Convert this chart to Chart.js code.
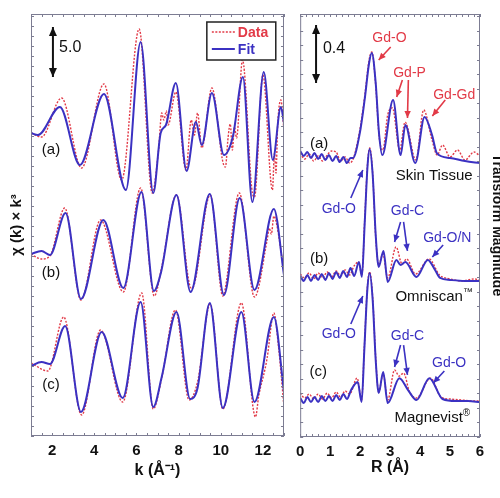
<!DOCTYPE html>
<html>
<head>
<meta charset="utf-8">
<script src="https://cdn.jsdelivr.net/npm/chart.js@4.4.1/dist/chart.umd.min.js"></script>
<style>
  html, body { margin: 0; background: #fff; }
  #fig { position: relative; width: 500px; height: 498px; overflow: hidden; }
  .pane { position: absolute; top: 0; height: 498px; }
</style>
</head>
<body>
<div id="fig">
  <div class="pane" style="left:0;width:290px"><canvas id="kspace"></canvas></div>
  <div class="pane" style="left:290px;width:210px"><canvas id="rspace"></canvas></div>
</div>
<script>
const FONT = "'Liberation Sans', Arial, Helvetica, sans-serif"
const RED = '#e23a47'
const BLUE = '#3b31c2'
const FRAME = '#7c7c92'
const INK = '#111'

// ---- k-space: chi(k) * k^3, curves shifted by K_OFFSETS ----
const K_TICKS = [2, 4, 6, 8, 10, 12]
const K_OFFSETS = [30.3, 18.2, 7.2]

const kFitA  = [1.0, 1.33, 2.37, 3.32, 4.46, 5.5, 6.2, 6.8, 7.15, 7.4, 7.87, 8.38, 8.82, 9.1, 9.58, 10.15, 10.57, 11.05, 11.5, 12.04, 12.47, 12.85, 13.0]
const chiFitA = [0, -0.2, 2.6, -3.2, 3.9, -5.7, 9.1, -6.0, 0.0, 0.8, 5.0, -3.8, 1.1, -1.2, 4.0, -2.2, -0.4, 5.6, -6.9, 6.1, -2.7, 2.6, 1.0]
const kDatA  = [1.0, 1.5, 2.45, 3.4, 4.46, 5.3, 6.13, 6.75, 7.05, 7.2, 7.3, 7.42, 7.5, 7.87, 8.35, 8.6, 8.75, 8.9, 9.1, 9.58, 10.1, 10.22, 10.35, 10.45, 10.55, 10.65, 10.75, 11.03, 11.5, 11.6, 12.0, 12.45, 12.55, 12.62, 12.7, 12.85, 13.0]
const chiDatA = [0, -0.4, 3.5, -3.5, 4.9, -4.7, 10.4, -6.0, -1.7, 2.0, 1.3, 2.2, 0.8, 4.1, -3.7, 1.3, -0.2, 2.0, -1.5, 4.5, -2.9, -3.4, -0.4, 0.9, -1.7, 0.6, -0.5, 7.3, -6.0, -6.4, 5.8, -5.7, -2.0, -4.0, 0.8, 3.3, 0.3]

const kFitB  = [1.0, 1.5, 1.9, 2.64, 3.37, 4.43, 5.38, 6.24, 6.83, 7.16, 7.9, 8.57, 9.48, 10.15, 10.9, 11.6, 12.52, 13.0]
const chiFitB = [0, 0.3, -0.1, 4.1, -4.5, 3.4, -3.4, 6.2, -3.7, -1.9, 5.9, -3.8, 6.0, -4.1, 5.6, -3.6, 4.5, -2.1]
const kDatB  = [1.0, 1.5, 1.9, 2.6, 3.37, 4.3, 5.38, 6.2, 6.85, 7.2, 7.9, 8.6, 8.75, 9.5, 10.1, 10.2, 10.88, 11.6, 12.2, 12.3, 12.4, 12.52, 12.65, 13.0]
const chiDatB = [0, -0.5, -0.2, 4.6, -4.6, 3.4, -3.8, 6.6, -4.2, -1.3, 5.9, -3.4, -3.0, 5.9, -4.2, -3.6, 6.1, -4.3, 1.4, 2.6, 2.0, 3.8, 3.0, -1.8]

const kFitC  = [1.0, 1.5, 1.9, 2.62, 3.37, 4.35, 5.35, 6.2, 6.8, 7.2, 7.9, 8.55, 8.9, 9.48, 10.1, 10.98, 11.6, 12.52, 13.0]
const chiFitC = [-0.2, 0.2, 0, 3.8, -4.8, 3.2, -3.4, 6.2, -4.3, -1.3, 5.2, -3.5, -2.4, 6.1, -4.4, 5.2, -3.8, 4.7, -2.8]
const kDatC  = [1.0, 1.8, 2.55, 3.4, 4.3, 5.35, 6.25, 6.8, 7.2, 7.85, 8.5, 8.9, 9.5, 10.1, 10.98, 11.65, 11.8, 12.1, 12.2, 12.52, 12.75, 13.0]
const chiDatC = [0.1, -0.7, 4.7, -5.1, 3.4, -3.8, 7.1, -4.5, -1.4, 5.4, -3.6, -1.8, 6.0, -4.5, 6.1, -5.3, -3.2, -0.5, 0.6, 5.1, 1.5, -4.3]

// ---- R-space: Fourier transform magnitude, curves shifted by R_OFFSETS ----
const R_TICKS = [0, 1, 2, 3, 4, 5, 6]
const R_OFFSETS = [1.841, 1.014, 0.172]

const rFitA = [0, 0.12, 0.24, 0.36, 0.48, 0.6, 0.72, 0.84, 0.96, 1.08, 1.2, 1.32, 1.44, 1.56, 1.68, 1.76, 1.99, 2.15, 2.30, 2.39, 2.52, 2.63, 2.74, 3.10, 3.35, 3.51, 3.84, 4.15, 4.40, 4.56, 5.0, 5.5, 6.0]
const ftFitA = [.131, .097, .124, .083, .117, .076, .110, .069, .103, .062, .097, .055, .090, .048, .083, .083, .255, .483, .738, .807, .600, .255, .103, .483, .103, .310, .048, .366, .241, .117, .083, .062, .048]
const rDatA = [0, 0.15, 0.3, 0.45, 0.6, 0.75, 0.9, 1.05, 1.2, 1.35, 1.5, 1.65, 1.78, 1.99, 2.15, 2.30, 2.39, 2.52, 2.63, 2.76, 2.92, 3.08, 3.32, 3.5, 3.86, 4.12, 4.4, 4.57, 4.75, 5.0, 5.25, 5.5, 5.8, 6.0]
const ftDatA = [.117, .076, .110, .062, .097, .062, .103, .131, .124, .062, .090, .048, .083, .276, .503, .759, .814, .586, .241, .138, .379, .428, .138, .331, .069, .414, .207, .103, .172, .090, .138, .069, .124, .097]

const rFitB = [0, 0.12, 0.24, 0.36, 0.48, 0.6, 0.72, 0.84, 0.96, 1.08, 1.2, 1.32, 1.44, 1.56, 1.68, 1.8, 1.96, 2.06, 2.15, 2.25, 2.32, 2.42, 2.52, 2.62, 2.78, 2.92, 3.21, 3.35, 3.51, 3.88, 4.26, 4.5, 4.67, 5.0, 5.5, 6.0]
const ftFitB = [.097, .062, .103, .062, .103, .069, .110, .069, .117, .076, .124, .083, .131, .090, .152, .097, .193, .090, .448, .862, .972, .793, .379, .159, .269, .055, .207, .172, .193, .090, .207, .138, .083, .069, .062, .062]
const rDatB = [0, 0.15, 0.3, 0.45, 0.6, 0.75, 0.9, 1.05, 1.2, 1.35, 1.5, 1.65, 1.8, 1.95, 2.06, 2.15, 2.25, 2.32, 2.42, 2.52, 2.62, 2.76, 2.92, 3.2, 3.4, 3.55, 3.85, 4.3, 4.65, 5.0, 5.4, 5.8, 6.0]
const ftDatB = [.110, .083, .117, .076, .117, .083, .124, .090, .131, .097, .138, .103, .166, .193, .103, .469, .876, .979, .800, .366, .172, .248, .083, .297, .179, .214, .110, .214, .103, .076, .062, .076, .069]

const rFitC = [0, 0.12, 0.24, 0.36, 0.48, 0.6, 0.72, 0.84, 0.96, 1.08, 1.2, 1.32, 1.44, 1.56, 1.7, 1.92, 2.05, 2.14, 2.24, 2.32, 2.42, 2.52, 2.62, 2.77, 2.92, 3.31, 3.6, 3.88, 4.31, 4.75, 5.2, 5.6, 6.0]
const ftFitC = [.097, .062, .103, .069, .103, .069, .110, .076, .110, .076, .117, .083, .124, .090, .152, .207, .069, .428, .841, .959, .772, .359, .131, .276, .062, .234, .152, .083, .234, .090, .076, .076, .069]
const rDatC = [0, 0.15, 0.3, 0.45, 0.6, 0.75, 0.9, 1.05, 1.2, 1.35, 1.5, 1.65, 1.9, 2.05, 2.14, 2.24, 2.32, 2.42, 2.52, 2.62, 2.77, 2.92, 3.15, 3.3, 3.45, 3.65, 3.88, 4.35, 4.7, 5.0, 5.4, 5.8, 6.0]
const ftDatC = [.131, .097, .124, .090, .124, .090, .131, .097, .138, .103, .145, .124, .234, .083, .441, .855, .966, .786, .372, .138, .262, .083, .290, .248, .269, .138, .097, .234, .103, .090, .083, .076, .076]

// ---- helpers ----
const pts = (xs, ys, off) => xs.map((x, i) => ({ x, y: ys[i] + off }))

function dataSet(xs, ys, off) {
  return { data: pts(xs, ys, off), borderColor: RED, borderWidth: 1.4, borderDash: [2, 1.5], order: 1 }
}
function fitSet(xs, ys, off) {
  return { data: pts(xs, ys, off), borderColor: BLUE, borderWidth: 2, order: 0 }
}

function label(ctx, s, x, y, color, font, align = 'center') {
  ctx.fillStyle = color
  ctx.font = font
  ctx.textAlign = align
  ctx.textBaseline = 'middle'
  ctx.fillText(s, x, y)
}

function head(ctx, x1, y1, x2, y2, len, w) {
  const a = Math.atan2(y2 - y1, x2 - x1)
  const bx = x2 - len * Math.cos(a), by = y2 - len * Math.sin(a)
  ctx.beginPath()
  ctx.moveTo(x2, y2)
  ctx.lineTo(bx + w * Math.sin(a), by - w * Math.cos(a))
  ctx.lineTo(bx - w * Math.sin(a), by + w * Math.cos(a))
  ctx.closePath()
  ctx.fill()
}

function arrow(ctx, x1, y1, x2, y2, color, both) {
  ctx.strokeStyle = color
  ctx.fillStyle = color
  ctx.lineWidth = both ? 2 : 1.6
  ctx.beginPath()
  ctx.moveTo(x1, y1)
  ctx.lineTo(x2, y2)
  ctx.stroke()
  head(ctx, x1, y1, x2, y2, both ? 9 : 7, both ? 4 : 3.2)
  if (both) head(ctx, x2, y2, x1, y1, 9, 4)
}

function framePlugin(xStep, yStep, annotate) {
  return {
    id: 'frame',
    afterDraw(chart) {
      const { ctx, chartArea: a, scales: { x, y } } = chart
      ctx.save()
      ctx.strokeStyle = FRAME
      ctx.lineWidth = 1
      ctx.strokeRect(a.left + 0.5, a.top + 0.5, a.width - 1, a.height - 1)
      ctx.beginPath()
      for (let v = x.min; v <= x.max + 1e-9; v += xStep) {
        const px = Math.round(x.getPixelForValue(v)) + 0.5
        ctx.moveTo(px, a.top); ctx.lineTo(px, a.top + 3)
        ctx.moveTo(px, a.bottom); ctx.lineTo(px, a.bottom - 3)
      }
      for (let v = y.min; v <= y.max + 1e-9; v += yStep) {
        const py = Math.round(y.getPixelForValue(v)) + 0.5
        ctx.moveTo(a.left, py); ctx.lineTo(a.left + 3, py)
        ctx.moveTo(a.right, py); ctx.lineTo(a.right - 3, py)
      }
      ctx.stroke()
      annotate(chart, ctx, x, y)
      ctx.restore()
    }
  }
}

function baseOptions(xMin, xMax, ticks, yMax, padding, axisHeight, title, titlePad) {
  return {
    responsive: true,
    maintainAspectRatio: false,
    animation: false,
    layout: { padding },
    plugins: { legend: { display: false }, tooltip: { enabled: false } },
    elements: { point: { radius: 0 }, line: { cubicInterpolationMode: 'monotone' } },
    scales: {
      x: {
        type: 'linear', min: xMin, max: xMax,
        afterBuildTicks: s => { s.ticks = ticks.map(v => ({ value: v })) },
        afterFit: s => { s.height = axisHeight },
        grid: { display: false, drawTicks: false },
        border: { display: false },
        ticks: { font: { family: FONT, size: 15, weight: 'bold' }, color: INK, padding: 6, maxRotation: 0 },
        title: { display: true, text: title, color: INK, font: { family: FONT, size: 16, weight: 'bold' }, padding: { top: 0, bottom: titlePad } }
      },
      y: { type: 'linear', min: 0, max: yMax, display: false }
    }
  }
}

// ---- left: k-space ----
const kDatasets = []
;[[kDatA, chiDatA, kFitA, chiFitA], [kDatB, chiDatB, kFitB, chiFitB], [kDatC, chiDatC, kFitC, chiFitC]]
  .forEach(([kd, cd, kf, cf], i) => {
    kDatasets.push(dataSet(kd, cd, K_OFFSETS[i]))
    kDatasets.push(fitSet(kf, cf, K_OFFSETS[i]))
  })

const K_SAMPLE_LABELS = [['(a)', 1.95, 28.6], ['(b)', 1.95, 16.3], ['(c)', 1.95, 5.1]]

const kFrame = framePlugin(0.5, 1, (chart, ctx, x, y) => {
  const f15 = `15px ${FONT}`
  K_SAMPLE_LABELS.forEach(([t, k, v]) => label(ctx, t, x.getPixelForValue(k), y.getPixelForValue(v), INK, f15))
  // 5.0 scale bar
  const bx = x.getPixelForValue(2.04)
  arrow(ctx, bx, y.getPixelForValue(40.9), bx, y.getPixelForValue(35.9), INK, true)
  label(ctx, '5.0', x.getPixelForValue(2.33), y.getPixelForValue(38.8), INK, `16px ${FONT}`, 'left')
  // legend box
  const lx = x.getPixelForValue(9.34), ly = y.getPixelForValue(41.4)
  const rx = x.getPixelForValue(12.61), ry = y.getPixelForValue(37.6)
  ctx.fillStyle = '#fff'
  ctx.fillRect(lx, ly, rx - lx, ry - ly)
  ctx.strokeStyle = '#222'
  ctx.lineWidth = 1.5
  ctx.strokeRect(lx, ly, rx - lx, ry - ly)
  ctx.lineWidth = 1.4
  ctx.strokeStyle = RED
  ctx.setLineDash([2, 1.5])
  ctx.beginPath(); ctx.moveTo(lx + 5, ly + 10); ctx.lineTo(lx + 28, ly + 10); ctx.stroke()
  ctx.setLineDash([])
  ctx.lineWidth = 2
  ctx.strokeStyle = BLUE
  ctx.beginPath(); ctx.moveTo(lx + 5, ly + 27); ctx.lineTo(lx + 28, ly + 27); ctx.stroke()
  label(ctx, 'Data', lx + 31, ly + 11, RED, `bold 14px ${FONT}`, 'left')
  label(ctx, 'Fit', lx + 31, ly + 28, BLUE, `bold 14px ${FONT}`, 'left')
  // y title
  ctx.save()
  ctx.translate(17, (chart.chartArea.top + chart.chartArea.bottom) / 2)
  ctx.rotate(-Math.PI / 2)
  label(ctx, 'χ (k) × k³', 0, 0, INK, `bold 15px ${FONT}`)
  ctx.restore()
})

new Chart(document.getElementById('kspace'), {
  type: 'line',
  data: { datasets: kDatasets },
  options: baseOptions(1, 13, K_TICKS, 42.2, { left: 31, right: 6, top: 14, bottom: 0 }, 62, 'k (Å⁻¹)', 18),
  plugins: [kFrame]
})

// ---- right: R-space ----
const rDatasets = []
;[[rDatA, ftDatA, rFitA, ftFitA], [rDatB, ftDatB, rFitB, ftFitB], [rDatC, ftDatC, rFitC, ftFitC]]
  .forEach(([rd, fd, rf, ff], i) => {
    rDatasets.push(dataSet(rd, fd, R_OFFSETS[i]))
    rDatasets.push(fitSet(rf, ff, R_OFFSETS[i]))
  })

const R_LABELS = [
  ['Gd-O', 2.98, 2.752, RED], ['Gd-P', 3.65, 2.510, RED], ['Gd-Gd', 5.14, 2.359, RED],
  ['Gd-O', 1.29, 1.572, BLUE], ['Gd-C', 3.58, 1.559, BLUE], ['Gd-O/N', 4.91, 1.372, BLUE],
  ['Gd-O', 1.29, 0.710, BLUE], ['Gd-C', 3.58, 0.697, BLUE], ['Gd-O', 4.97, 0.510, BLUE]
]
const R_ARROWS = [
  [3.02, 2.690, 2.62, 2.600, RED],
  [3.41, 2.462, 3.22, 2.345, RED], [3.61, 2.462, 3.58, 2.200, RED],
  [4.84, 2.324, 4.41, 2.214, RED],
  [1.69, 1.648, 2.09, 1.841, BLUE],
  [3.35, 1.483, 3.15, 1.345, BLUE], [3.45, 1.483, 3.58, 1.283, BLUE],
  [4.77, 1.324, 4.41, 1.241, BLUE],
  [1.69, 0.779, 2.09, 0.972, BLUE],
  [3.35, 0.634, 3.15, 0.483, BLUE], [3.45, 0.634, 3.58, 0.428, BLUE],
  [4.81, 0.455, 4.44, 0.372, BLUE]
]
const R_SAMPLE_LABELS = [['(a)', 0.63, 2.021], ['(b)', 0.63, 1.228], ['(c)', 0.60, 0.448]]
const R_NAMES = [['Skin Tissue', '', 4.47, 1.800], ['Omniscan', '™', 4.47, 0.966], ['Magnevist', '®', 4.41, 0.131]]

const rFrame = framePlugin(0.2, 0.1, (chart, ctx, x, y) => {
  const f14 = `14px ${FONT}`, f15 = `15px ${FONT}`
  R_ARROWS.forEach(([x1, y1, x2, y2, c]) =>
    arrow(ctx, x.getPixelForValue(x1), y.getPixelForValue(y1), x.getPixelForValue(x2), y.getPixelForValue(y2), c, false))
  R_LABELS.forEach(([t, r, v, c]) => label(ctx, t, x.getPixelForValue(r), y.getPixelForValue(v), c, f14))
  R_SAMPLE_LABELS.forEach(([t, r, v]) => label(ctx, t, x.getPixelForValue(r), y.getPixelForValue(v), INK, f15))
  R_NAMES.forEach(([t, sup, r, v]) => {
    ctx.font = f15
    const w = ctx.measureText(t).width
    ctx.font = `10px ${FONT}`
    const ws = ctx.measureText(sup).width
    const cx = x.getPixelForValue(r) - (w + ws) / 2, cy = y.getPixelForValue(v)
    label(ctx, t, cx, cy, INK, f15, 'left')
    if (sup) label(ctx, sup, cx + w, cy - 5, INK, `10px ${FONT}`, 'left')
  })
  // 0.4 scale bar
  const bx = x.getPixelForValue(0.53)
  arrow(ctx, bx, y.getPixelForValue(2.841), bx, y.getPixelForValue(2.441), INK, true)
  label(ctx, '0.4', x.getPixelForValue(0.76), y.getPixelForValue(2.676), INK, `16px ${FONT}`, 'left')
  // right-hand title, clipped by the page edge
  ctx.save()
  ctx.translate(203, 225)
  ctx.rotate(Math.PI / 2)
  ctx.fillStyle = INK
  ctx.font = `bold 14px ${FONT}`
  ctx.textAlign = 'center'
  ctx.textBaseline = 'alphabetic'
  ctx.fillText('Transform Magnitude', 0, 0)
  ctx.restore()
})

new Chart(document.getElementById('rspace'), {
  type: 'line',
  data: { datasets: rDatasets },
  options: baseOptions(0, 6, R_TICKS, 2.917, { left: 9, right: 20, top: 14, bottom: 0 }, 61, 'R (Å)', 21),
  plugins: [rFrame]
})
</script>
</body>
</html>
